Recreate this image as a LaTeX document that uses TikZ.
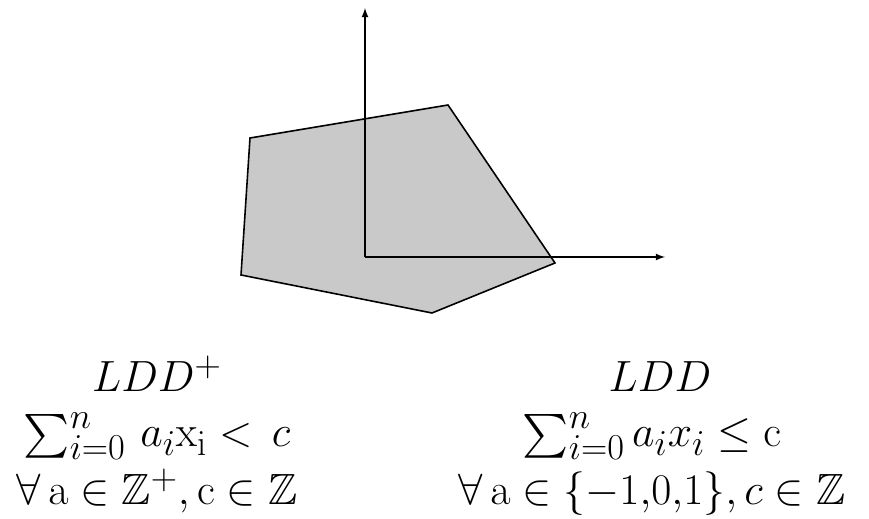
\documentclass[tikz,border=0pt]{standalone}
\usepackage{amsmath,amssymb}
\usepackage{tikz}
\definecolor{polyfill}{RGB}{201,201,201}

\begin{document}
\begin{tikzpicture}[x=0.02cm, y=-0.02cm, every node/.style={font=\Huge, inner sep=0pt}]
    \useasboundingbox (0,0) rectangle (869,519);
    \draw[line width=0.9pt, fill=polyfill](250,138)--(448,105)--(555,263)--(432,313)--(241,275)--cycle;
    \coordinate (o) at (365,257);
    \coordinate (ytop) at (365,8);
    \coordinate (xend) at (665,257);
    \draw[line width=0.8pt, -latex](o)--(ytop);
    \draw[line width=0.8pt, -latex](o)--(xend);
    \node[anchor=base](l1)at (157,392){\(LDD^{+}\)};
    \node[anchor=base](l2)at (157,447){\(\sum_{i=0}^{n}\,a_i\mathrm{x}_{\mathrm{i}} <\, c\)};
    \node[anchor=base](l3)at (157,505){\(\forall\,\mathrm{a}\in\mathbb{Z}^{+},\mathrm{c}\in\mathbb{Z}\)};
    \node[anchor=base](r1)at (660,392){\(LDD\)};
    \node[anchor=base](r2)at (652,447){\(\sum_{i=0}^{n}a_i x_i \leq \mathrm{c}\)};
    \node[anchor=base](r3)at (652,505){\(\forall\,\mathrm{a}\in\{-1{,}0{,}1\}, c\in\mathbb{Z}\)};
\end{tikzpicture}
\end{document}
